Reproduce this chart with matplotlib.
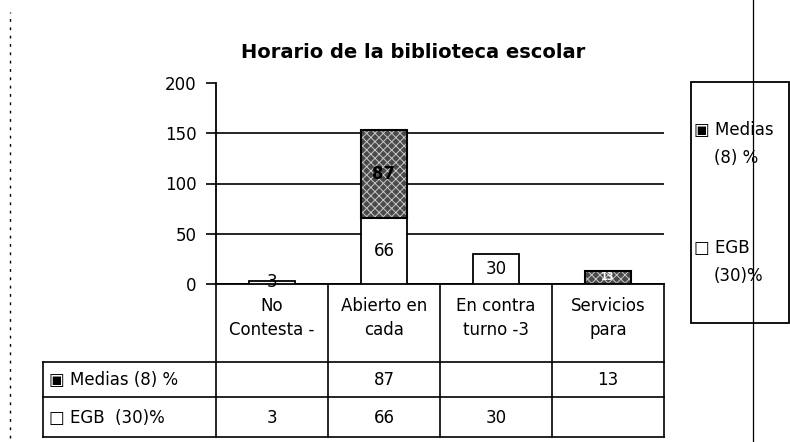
import numpy as np
import matplotlib
matplotlib.use('Agg')
import matplotlib.pyplot as plt
from matplotlib.transforms import blended_transform_factory

plt.rc('font', family='DejaVu Sans', size=12)
plt.rc('hatch', linewidth=0.7)

# data
header_lines = ['No\nContesta -', 'Abierto en\ncada', 'En contra\nturno -3', 'Servicios\npara']
series_names = ['Medias (8) %', 'EGB  (30)%']
legend_lines = [('Medias', '(8) %'), ('EGB', '(30)%')]
icons = ['\u25a3', '\u25a1']
medias = [np.nan, 87, np.nan, 13]
egb = [3, 66, 30, np.nan]
yticks = [0, 50, 100, 150, 200]

W, H = 790, 442
fig = plt.figure(figsize=(W / 100, H / 100), dpi=100)

# pixel helpers (layout only)
def fx(px):
    return px / W

def fy(py):
    return 1 - py / H

ax = fig.add_axes([fx(216), fy(284), (664 - 216) / W, (284 - 83) / H])
x = np.arange(len(header_lines)) + 0.5
ax.set_xlim(0, len(header_lines))
ax.set_ylim(0, 200)
ax.set_yticks(yticks)
ax.set_xticks([])
for s in ['top', 'right']:
    ax.spines[s].set_visible(False)
ax.spines['left'].set_linewidth(1.3)
ax.spines['bottom'].set_linewidth(1.3)
ax.tick_params(axis='y', length=7, width=1.2, pad=7, labelsize=12)
ax.yaxis.grid(True, color='black', lw=1.2)
ax.get_ygridlines()[-1].set_visible(False)
ax.set_axisbelow(True)

w = 0.41
egb_arr = np.array(egb, dtype=float)
med_arr = np.array(medias, dtype=float)
base = np.nan_to_num(egb_arr)

m = ~np.isnan(egb_arr)
c_egb = ax.bar(x[m], egb_arr[m], w, color='white', edgecolor='black', lw=1.3, zorder=3)
ax.bar_label(c_egb, label_type='center', fontsize=12)

m = ~np.isnan(med_arr)
ax.bar(x[m], med_arr[m], w, bottom=base[m], color='#4a4a4a', edgecolor='#c8c8c8',
       hatch='xxxx', lw=0, zorder=3)
c_med = ax.bar(x[m], med_arr[m], w, bottom=base[m], fill=False, edgecolor='black',
               lw=1.5, zorder=4)
labels = ax.bar_label(c_med, label_type='center', fontsize=12, fontweight='bold')
for t, v in zip(labels, med_arr[m]):
    if v < 20:
        t.set_color('white')
        t.set_fontsize(7)

# table under the chart
tr = blended_transform_factory(ax.transData, ax.transAxes)

def ay(py):
    return (284 - py) / (284 - 83)

left = (43 - 216) / 112
rows_y = [ay(362), ay(397), ay(437)]
for b in range(len(header_lines) + 1):
    ax.plot([b, b], [0, rows_y[-1]], color='black', lw=1.2, transform=tr, clip_on=False)
ax.plot([left, left], [rows_y[0], rows_y[-1]], color='black', lw=1.2, transform=tr, clip_on=False)
for yy in rows_y:
    ax.plot([left, len(header_lines)], [yy, yy], color='black', lw=1.2, transform=tr, clip_on=False)

for xi, lab in zip(x, header_lines):
    ax.text(xi, ay(318), lab, transform=tr, ha='center', va='center', linespacing=1.45,
            fontsize=12, clip_on=False)

row_text_y = [ay(380), ay(418)]
for vals, name, ic, yy in zip([medias, egb], series_names, icons, row_text_y):
    ax.text(left + 0.05, yy, ic + ' ' + name, transform=tr, ha='left', va='center',
            fontsize=12, clip_on=False)
    for xi, v in zip(x, vals):
        if not np.isnan(v):
            ax.text(xi, yy, f'{v:g}', transform=tr, ha='center', va='center',
                    fontsize=12, clip_on=False)

# title
fig.text(fx(413), fy(52), 'Horario de la biblioteca escolar', ha='center', va='center',
         fontsize=14, fontweight='bold')

# legend box
fig.add_artist(plt.Rectangle((fx(691), fy(323)), (789 - 691) / W, (323 - 82) / H,
                             transform=fig.transFigure, fill=False, edgecolor='black', lw=1.3))
for (l1, l2), ic, y1 in zip(legend_lines, icons, [130, 248]):
    fig.text(fx(694), fy(y1), ic + ' ' + l1, ha='left', va='center', fontsize=12)
    fig.text(fx(714), fy(y1 + 28), l2, ha='left', va='center', fontsize=12)

# scan edges
fig.add_artist(plt.Line2D([fx(753), fx(753)], [0, 1], color='black', lw=0.9))
fig.add_artist(plt.Line2D([fx(10), fx(10)], [fy(438), fy(12)], color='black', lw=1.0,
                          ls=(0, (2, 4))))

fig.savefig('out.png', dpi=100)
